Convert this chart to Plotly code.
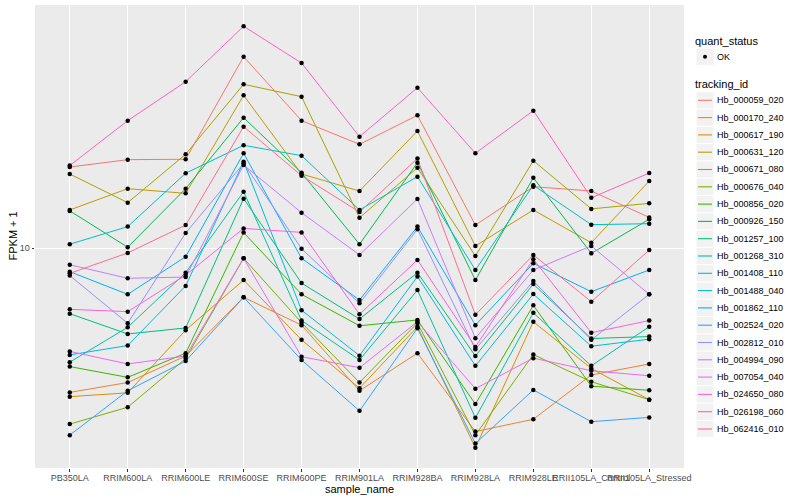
import plotly.graph_objects as go

samples = ["PB350LA", "RRIM600LA", "RRIM600LE", "RRIM600SE", "RRIM600PE", "RRIM901LA",
           "RRIM928BA", "RRIM928LA", "RRIM928LE", "RRII105LA_Control", "RRII105LA_Stressed"]

tracking_ids = ["Hb_000059_020", "Hb_000170_240", "Hb_000617_190", "Hb_000631_120",
                "Hb_000671_080", "Hb_000676_040", "Hb_000856_020", "Hb_000926_150",
                "Hb_001257_100", "Hb_001268_310", "Hb_001408_110", "Hb_001488_040",
                "Hb_001862_110", "Hb_002524_020", "Hb_002812_010", "Hb_004994_090",
                "Hb_007054_040", "Hb_024650_080", "Hb_026198_060", "Hb_062416_010"]

quant_status = ["OK"]

# FPKM + 1 per sample (same order as samples)
hb_000059_020 = [14.54, 15.04, 15.07, 24.17, 18.00, 16.14, 18.45, 11.13, 13.28, 13.02, 11.53]
hb_000170_240 = [5.15, 5.39, 6.09, 7.98, 7.02, 5.19, 6.17, 4.30, 4.55, 5.58, 5.87]
hb_000617_190 = [5.05, 5.14, 6.86, 8.64, 6.56, 5.25, 6.97, 3.99, 7.13, 5.75, 4.98]
hb_000631_120 = [11.93, 13.16, 12.88, 20.23, 14.08, 13.02, 17.16, 10.11, 11.93, 10.26, 13.63]
hb_000671_080 = [14.08, 12.34, 15.42, 21.28, 20.10, 11.51, 14.49, 9.65, 14.97, 11.99, 12.30]
hb_000676_040 = [4.45, 4.81, 6.02, 9.55, 7.10, 5.39, 7.09, 4.23, 6.13, 5.41, 4.98]
hb_000856_020 = [5.80, 5.52, 6.17, 10.75, 8.09, 7.00, 7.19, 4.88, 7.69, 5.30, 5.20]
hb_000926_150 = [11.88, 10.05, 13.16, 18.25, 14.16, 10.19, 14.83, 8.64, 13.84, 9.77, 11.43]
hb_001257_100 = [7.40, 6.74, 6.93, 12.57, 8.52, 7.22, 8.94, 6.09, 8.48, 6.60, 6.66]
hb_001268_310 = [5.92, 6.95, 8.94, 12.98, 7.17, 5.98, 8.25, 4.58, 7.43, 5.82, 6.97]
hb_001408_110 = [10.19, 11.05, 14.13, 16.07, 15.32, 11.93, 13.91, 9.05, 13.37, 11.15, 11.20]
hb_001488_040 = [6.12, 6.39, 8.41, 14.90, 7.52, 6.10, 8.78, 5.82, 8.10, 6.37, 6.58]
hb_001862_110 = [8.98, 8.09, 9.62, 15.49, 9.55, 7.88, 11.05, 7.02, 9.33, 8.19, 9.05]
hb_002524_020 = [4.23, 5.19, 5.95, 7.98, 5.98, 4.73, 6.92, 4.07, 5.21, 4.50, 4.59]
hb_002812_010 = [8.82, 7.08, 10.73, 14.79, 9.98, 7.76, 10.92, 6.28, 8.60, 6.56, 8.09]
hb_004994_090 = [9.27, 8.71, 8.76, 14.68, 11.78, 9.70, 12.55, 6.61, 9.05, 10.11, 8.09]
hb_007054_040 = [6.22, 5.87, 6.09, 9.55, 6.07, 5.77, 7.13, 5.24, 6.03, 5.69, 5.56]
hb_024650_080 = [7.55, 7.47, 8.84, 10.96, 10.76, 7.38, 9.48, 6.35, 9.51, 6.78, 7.17]
hb_026198_060 = [14.64, 18.00, 21.54, 27.80, 23.47, 16.72, 20.95, 15.49, 18.85, 12.62, 14.14]
hb_062416_010 = [8.91, 9.79, 11.13, 17.51, 13.97, 11.82, 15.12, 7.36, 9.70, 7.82, 9.92]

series_values = [hb_000059_020, hb_000170_240, hb_000617_190, hb_000631_120, hb_000671_080,
                 hb_000676_040, hb_000856_020, hb_000926_150, hb_001257_100, hb_001268_310,
                 hb_001408_110, hb_001488_040, hb_001862_110, hb_002524_020, hb_002812_010,
                 hb_004994_090, hb_007054_040, hb_024650_080, hb_026198_060, hb_062416_010]

colors = ["#F8766D", "#EA8331", "#D89000", "#C09B00", "#A3A500", "#7CAE00", "#39B600",
          "#00BB4E", "#00BF7D", "#00C1A3", "#00BFC4", "#00BAE0", "#00B0F6", "#35A2FF",
          "#9590FF", "#C77CFF", "#E76BF3", "#FA62DB", "#FF62BC", "#FF6C91"]

FONT = "Liberation Sans, Arial, sans-serif"
W, H = 800, 500
ML, MR, MT, MB = 35, 116, 5, 32
PW, PH = W - ML - MR, H - MT - MB


def px(xp):
    return (xp - ML) / PW


def py(yp):
    return 1 - (yp - MT) / PH


fig = go.Figure()
for tid, vals, col in zip(tracking_ids, series_values, colors):
    fig.add_trace(go.Scatter(
        x=samples, y=vals, mode="lines", name=tid,
        line=dict(color=col, width=1), showlegend=False, hoverinfo="skip"))

all_x = [s for _ in series_values for s in samples]
all_y = [v for vals in series_values for v in vals]
fig.add_trace(go.Scatter(
    x=all_x, y=all_y, mode="markers", name=quant_status[0], showlegend=False,
    marker=dict(color="black", size=4.5)))

# ---- hand-built ggplot-style legend (keys + labels) ----
shapes = []
annotations = []
KEY_L, KEY_R = 696.5, 713.5
TEXT_X = 714.5


def key_box(yc):
    shapes.append(dict(type="rect", xref="paper", yref="paper",
                       x0=px(KEY_L), x1=px(KEY_R), y0=py(yc - 8.1), y1=py(yc + 8.1),
                       fillcolor="#F2F2F2", line=dict(width=0), layer="below"))


def label(text, xp, yp, size, angle=0, anchor="left"):
    annotations.append(dict(text=text, xref="paper", yref="paper", x=px(xp), y=py(yp),
                            xanchor=anchor, yanchor="middle", showarrow=False,
                            textangle=angle,
                            font=dict(size=size, color="black", family=FONT)))


label("quant_status", 693.5, 40.7, 11)
key_box(56.7)
shapes.append(dict(type="circle", xref="paper", yref="paper",
                   x0=px(703), x1=px(707), y0=py(54.7), y1=py(58.7),
                   fillcolor="black", line=dict(width=0)))
label(quant_status[0], TEXT_X, 56.7, 9)
label("tracking_id", 693.5, 84.0, 11)

STEP = 17.3
for i, (tid, col) in enumerate(zip(tracking_ids, colors)):
    yc = 100.3 + STEP * i
    key_box(yc)
    shapes.append(dict(type="line", xref="paper", yref="paper",
                       x0=px(KEY_L + 1.5), x1=px(KEY_R - 1.5), y0=py(yc), y1=py(yc),
                       line=dict(color=col, width=1.1)))
    label(tid, TEXT_X, yc, 9)

# axis titles (ggplot placement)
label("sample_name", ML + PW / 2, 489.0, 11, anchor="center")
label("FPKM + 1", 12, MT + PH / 2, 11, angle=-90, anchor="center")

fig.update_layout(
    width=W, height=H,
    margin=dict(l=ML, r=MR, t=MT, b=MB),
    paper_bgcolor="white", plot_bgcolor="#EBEBEB",
    font=dict(family=FONT, size=9, color="black"),
    showlegend=False,
    shapes=shapes, annotations=annotations,
)
fig.update_layout(xaxis=dict(
    type="category", range=[-0.6, 10.6], showgrid=True, gridcolor="white", gridwidth=1.2,
    zeroline=False, showline=False, ticks="outside", ticklen=2.5, tickcolor="#333333",
    tickangle=0, automargin=False, ticklabelstandoff=-1,
    tickfont=dict(size=9, color="#4D4D4D")))
fig.update_layout(yaxis=dict(
    type="log", range=[0.5606, 1.4866], tickvals=[10], ticktext=["10"], automargin=False,
    showgrid=True, gridcolor="white", gridwidth=1.2, zeroline=False, showline=False,
    ticks="outside", ticklen=2.5, tickcolor="#333333",
    tickfont=dict(size=9, color="#4D4D4D")))

fig.write_html("out.html", config={"displayModeBar": False},
               post_script="document.body.style.margin='0px';document.body.style.overflow='hidden';")
